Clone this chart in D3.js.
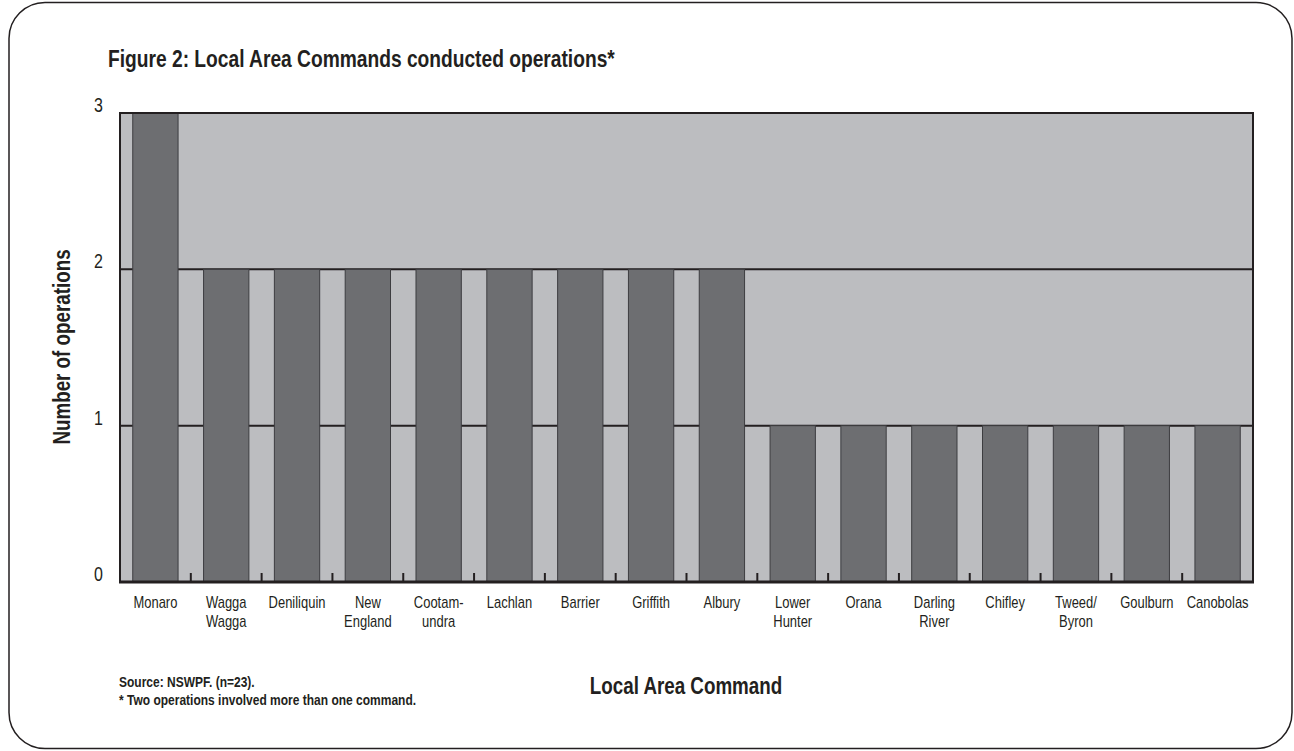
<!DOCTYPE html>
<html><head><meta charset="utf-8">
<script src="https://cdn.jsdelivr.net/npm/d3@7/dist/d3.min.js"></script>
<style>
body{margin:0;background:#fff;}
text{font-family:"Liberation Sans",Arial,sans-serif;fill:#231f20;}
</style></head>
<body><svg id="c" width="1294" height="751"></svg>
<script>
const categories = [["Monaro"],["Wagga","Wagga"],["Deniliquin"],["New","England"],["Cootam-","undra"],["Lachlan"],["Barrier"],["Griffith"],["Albury"],["Lower","Hunter"],["Orana"],["Darling","River"],["Chifley"],["Tweed/","Byron"],["Goulburn"],["Canobolas"]];
const values = [3,2,2,2,2,2,2,2,2,1,1,1,1,1,1,1];
const yTicks = [0,1,2,3];

const svg = d3.select("#c");
const SX = 0.8; // condensed look
function cText(g, x, y, rot){
  return g.append("text").attr("transform",`translate(${x},${y})${rot?` rotate(${rot})`:""} scale(${SX},1)`);
}
svg.append("rect").attr("x",9).attr("y",2.5).attr("width",1283).attr("height",746)
  .attr("rx",36).attr("ry",36).attr("fill","none").attr("stroke","#231f20").attr("stroke-width",1.5);

cText(svg,108,67).attr("font-size",24).attr("font-weight","bold")
  .text("Figure 2: Local Area Commands conducted operations*");

const L=120,R=1253,T=113,B=582;
const x = d3.scaleBand().domain(d3.range(categories.length)).range([L,R]).paddingInner(0.36).paddingOuter(0.18);
const y = d3.scaleLinear().domain([0,3]).range([B,T]);
const step = x.step();

svg.append("rect").attr("x",L).attr("y",T).attr("width",R-L).attr("height",B-T).attr("fill","#bcbdc0");
svg.append("g").selectAll("line").data(yTicks.filter(d=>d>0&&d<3)).join("line")
  .attr("x1",L).attr("x2",R).attr("y1",d=>y(d)).attr("y2",d=>y(d)).attr("stroke","#231f20").attr("stroke-width",2);
svg.append("g").selectAll("rect").data(values).join("rect")
  .attr("x",(d,i)=>x(i)).attr("width",x.bandwidth())
  .attr("y",d=>y(d)).attr("height",d=>B-y(d))
  .attr("fill","#6d6e71").attr("stroke","#3d3d40").attr("stroke-width",1);
svg.append("path").attr("d",`M${L},${B}V${T}H${R}V${B}`).attr("fill","none").attr("stroke","#231f20").attr("stroke-width",2);
const bounds = d3.range(categories.length+1).map(i=>L+i*step);
svg.append("g").selectAll("line").data(bounds).join("line")
  .attr("x1",d=>d).attr("x2",d=>d).attr("y1",B).attr("y2",B-9).attr("stroke","#231f20").attr("stroke-width",2);
svg.append("line").attr("x1",L-1).attr("x2",R+1).attr("y1",B).attr("y2",B).attr("stroke","#231f20").attr("stroke-width",3);

const yg = svg.append("g");
yTicks.forEach(d=>{ cText(yg,103,y(d)-1).attr("text-anchor","end").attr("font-size",20).text(d); });

const xg = svg.append("g");
categories.forEach((lines,i)=>{
  const t = cText(xg, x(i)+x.bandwidth()/2, 608).attr("text-anchor","middle").attr("font-size",16.2);
  lines.forEach((s,j)=>t.append("tspan").attr("x",0).attr("dy",j===0?0:19).text(s));
});

cText(svg,686,694).attr("text-anchor","middle").attr("font-size",23.5).attr("font-weight","bold")
  .text("Local Area Command");
cText(svg,70,347,-90).attr("text-anchor","middle").attr("font-size",23.5).attr("font-weight","bold")
  .text("Number of operations");

cText(svg,119,687).attr("font-size",15).attr("font-weight","bold").text("Source: NSWPF. (n=23).");
cText(svg,119,705).attr("font-size",15).attr("font-weight","bold").text("* Two operations involved more than one command.");
</script></body></html>
